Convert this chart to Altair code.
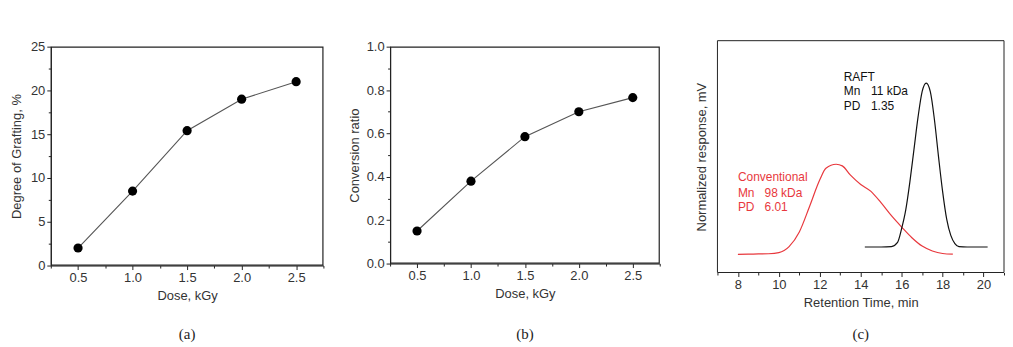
import altair as alt
import pandas as pd

# ---------------- data ----------------
dose = [0.5, 1.0, 1.5, 2.0, 2.5]
grafting = [2.0, 8.5, 15.4, 19.0, 21.0]
conversion = [0.15, 0.38, 0.585, 0.70, 0.765]

rt_conv = [8.0, 8.5, 9.0, 9.5, 10.0, 10.5, 11.0, 11.5, 12.0, 12.3, 12.8, 13.1, 13.5,
           14.0, 14.5, 15.0, 15.5, 16.0, 16.5, 17.0, 17.5, 18.0, 18.5]
resp_conv = [0.078, 0.079, 0.080, 0.081, 0.086, 0.112, 0.175, 0.285, 0.40, 0.45, 0.467,
             0.46, 0.42, 0.38, 0.35, 0.30, 0.245, 0.196, 0.150, 0.114, 0.093, 0.082, 0.079]

rt_raft = [14.2, 15.0, 15.5, 15.8, 16.0, 16.2, 16.4, 16.6, 16.8, 17.0, 17.2, 17.4, 17.6,
           17.8, 18.0, 18.2, 18.4, 18.6, 18.8, 19.2, 20.2]
resp_raft = [0.11, 0.11, 0.112, 0.13, 0.19, 0.27, 0.39, 0.53, 0.67, 0.78, 0.817, 0.78, 0.66,
             0.50, 0.35, 0.23, 0.16, 0.125, 0.112, 0.11, 0.11]

ann_text = ["RAFT", "Mn", "11 kDa", "PD", "1.35", "Conventional", "Mn", "98 kDa", "PD", "6.01"]
ann_x = [13.17, 13.17, 14.5, 13.17, 14.5, 8.0, 8.0, 9.3, 8.0, 9.3]
ann_y = [0.845, 0.782, 0.782, 0.718, 0.718, 0.413, 0.345, 0.345, 0.282, 0.282]
ann_series = ["RAFT"] * 5 + ["Conventional"] * 5

dose_ticks = [0.25, 0.5, 0.75, 1.0, 1.25, 1.5, 1.75, 2.0, 2.25, 2.5, 2.75]
graft_ticks = [0, 2.5, 5, 7.5, 10, 12.5, 15, 17.5, 20, 22.5, 25]
conv_ticks = [0.0, 0.1, 0.2, 0.3, 0.4, 0.5, 0.6, 0.7, 0.8, 0.9, 1.0]
rt_ticks = [7, 8, 9, 10, 11, 12, 13, 14, 15, 16, 17, 18, 19, 20, 21]

captions = ["(a)", "(b)", "(c)"]

# ---------------- style ----------------
FONT = "Liberation Sans"
TXT = "#333333"
AX = "#222222"
RED = "#e8383d"


def make_axis(values, test, fmt, title, tpad, ext=None, domain=True):
    kw = {}
    if ext is not None:
        kw = {"minExtent": ext, "maxExtent": ext}
    return alt.Axis(
        values=values, format=fmt, labelExpr=f"({test}) ? datum.label : ''",
        tickSize={"condition": {"test": test, "value": 4}, "value": 2.5},
        title=title, titlePadding=tpad, grid=False, labelOverlap=False, labelFlush=False,
        labelPadding=2, labelFont=FONT, labelFontSize=13, labelColor=TXT,
        titleFont=FONT, titleFontSize=13, titleFontWeight="normal", titleColor=TXT,
        domain=domain, domainColor=AX, tickColor=AX, **kw)


def frame(tag, x0, x1, y0, y1, sw):
    d = pd.DataFrame({"panel": [tag]})
    return alt.Chart(d).mark_rect(fill="white", fillOpacity=0, stroke=AX, strokeWidth=sw,
                                  strokeOpacity=1).encode(
        x=alt.value(x0), x2=alt.value(x1), y=alt.value(y0), y2=alt.value(y1))


XTEST = "abs(datum.value*2 - round(datum.value*2)) < 0.001"
TOP = 6
CAP_Y = 295
DOSE_DOM = [0.25, 2.75]


def dose_panel(tag, vals, ytitle, ymax, yticks, ytest, yfmt, w, h, cap, ext, right_gap):
    df = pd.DataFrame({"dose": dose, "val": vals})
    yax = make_axis(yticks, ytest, yfmt, ytitle, 5, ext)
    xax = make_axis(dose_ticks, XTEST, ".1f", "Dose, kGy", 5)
    xsc_d = alt.Scale(domain=DOSE_DOM, nice=False, zero=False)
    ysc_d = alt.Scale(domain=[0, ymax], nice=False, zero=False, range=[h, TOP])
    base = alt.Chart(df).encode(
        x=alt.X("dose:Q", scale=xsc_d, axis=xax),
        y=alt.Y("val:Q", scale=ysc_d, axis=yax),
    )
    line = base.mark_line(color="#555555", strokeWidth=1.1)
    pts = base.mark_point(filled=True, size=85, color="black", opacity=1)
    cdf = pd.DataFrame({"t": [cap]})
    capt = alt.Chart(cdf).mark_text(font="Liberation Serif", fontSize=15, color="#222222").encode(
        text="t:N", x=alt.value(w / 2), y=alt.value(CAP_Y))
    box = frame(tag, 0.5, w - 0.5, TOP + 0.5, h - 0.5, 1.2)
    layers = [line, pts, capt, box]
    if right_gap:
        sp = pd.DataFrame({"gap": [tag]})
        layers.append(alt.Chart(sp).mark_rule(color="white", strokeWidth=1).encode(
            x=alt.value(w + right_gap), y=alt.value(h - 10), y2=alt.value(h - 5)))
    return alt.layer(*layers).properties(width=w, height=h)


pa = dose_panel("a", grafting, "Degree of Grafting, %", 25, graft_ticks,
                "datum.value % 5 == 0", "d", 274, 226, captions[0], 22, 0)
pb = dose_panel("b", conversion, "Conversion ratio", 1.0, conv_ticks,
                "abs(datum.value*5 - round(datum.value*5)) < 0.001", ".1f", 271, 224,
                captions[1], 24, 11)

# panel c
gpc = pd.DataFrame({
    "rt": rt_conv + rt_raft,
    "resp": resp_conv + resp_raft,
    "series": ["Conventional"] * len(rt_conv) + ["RAFT"] * len(rt_raft),
})
ann = pd.DataFrame({"rt": ann_x, "resp": ann_y, "t": ann_text, "series": ann_series})
cscale = alt.Scale(domain=["Conventional", "RAFT"], range=[RED, "#111111"])
xsc = alt.Scale(domain=[7, 21], nice=False, zero=False)
ysc = alt.Scale(domain=[0, 1], nice=False, zero=False)
CTEST = "abs(datum.value/2 - round(datum.value/2)) < 0.001"
xax_c = make_axis(rt_ticks, CTEST, "d", "Retention Time, min", 5, domain=False)
yax_c = alt.Axis(title="Normalized response, mV", labels=False, ticks=False, grid=False,
                 minExtent=0, maxExtent=0, titlePadding=9, domain=False,
                 titleFont=FONT, titleFontSize=13, titleFontWeight="normal", titleColor=TXT)

cbase = alt.Chart().encode(
    x=alt.X("rt:Q", scale=xsc, axis=xax_c),
    y=alt.Y("resp:Q", scale=ysc, axis=yax_c),
    color=alt.Color("series:N", scale=cscale, legend=None),
)
curves = cbase.mark_line(strokeWidth=1.2, interpolate="monotone").encode(
    detail="series:N").properties(data=gpc)
labels = cbase.mark_text(align="left", baseline="middle", font=FONT, fontSize=12).encode(
    text="t:N").properties(data=ann)
cdf_c = pd.DataFrame({"t": [captions[2]]})
capt_c = alt.Chart(cdf_c).mark_text(font="Liberation Serif", fontSize=15, color="#222222").encode(
    text="t:N", x=alt.value(144), y=alt.value(CAP_Y))
pc = alt.layer(frame("c", 0, 288, 0, 233, 1), curves, labels, capt_c).properties(
    width=288, height=233)

chart = alt.concat(pa, pb, pc, columns=3, spacing=24, align="none").properties(
    padding={"left": 3, "top": 31, "right": 0, "bottom": 0}, background="white"
).configure_view(strokeWidth=0)

chart.save("out.html", embed_options={"renderer": "svg", "actions": False})
